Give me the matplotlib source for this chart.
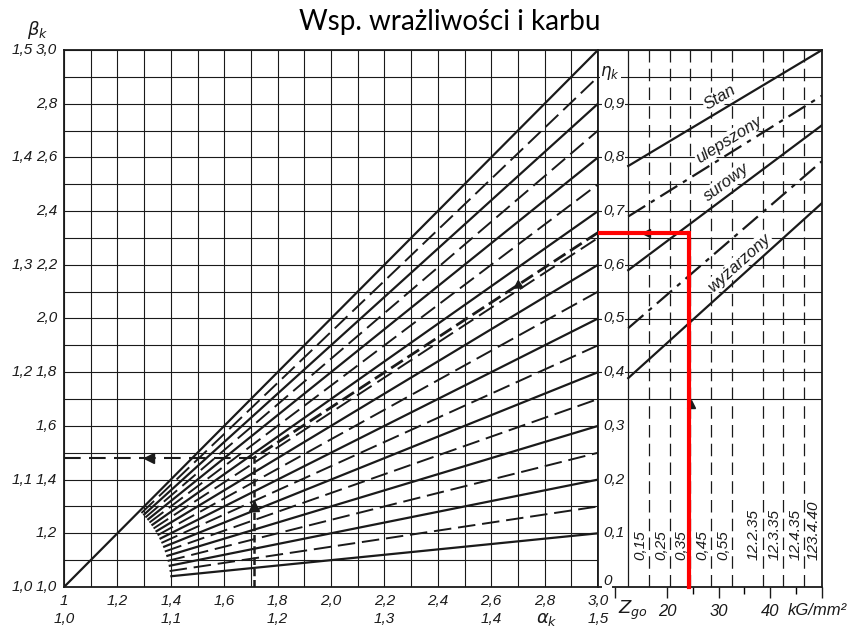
import numpy as np
import matplotlib
matplotlib.use('Agg')
import matplotlib.pyplot as plt

# --- data ---
alpha_ticks = [1.0, 1.2, 1.4, 1.6, 1.8, 2.0, 2.2, 2.4, 2.6, 2.8, 3.0]
alpha_labels = ['1', '1,2', '1,4', '1,6', '1,8', '2,0', '2,2', '2,4', '2,6', '2,8', '3,0']
alpha2_ticks = [1.0, 1.4, 1.8, 2.2, 2.6, 3.0]
alpha2_labels = ['1,0', '1,1', '1,2', '1,3', '1,4', '1,5']
beta_ticks = [1.0, 1.2, 1.4, 1.6, 1.8, 2.0, 2.2, 2.4, 2.6, 2.8, 3.0]
beta_labels = ['1,0', '1,2', '1,4', '1,6', '1,8', '2,0', '2,2', '2,4', '2,6', '2,8', '3,0']
beta2_ticks = [1.0, 1.4, 1.8, 2.2, 2.6, 3.0]
beta2_labels = ['1,0', '1,1', '1,2', '1,3', '1,4', '1,5']

# fan of lines beta = 1 + eta*(alpha-1)
eta_solid = [0.1, 0.2, 0.3, 0.4, 0.5, 0.6, 0.7, 0.8, 0.9, 1.0]
eta_dashed = [0.15, 0.25, 0.35, 0.45, 0.55, 0.65, 0.75, 0.85, 0.95]
fan_radius = 0.4

eta_ticks = [0.0, 0.1, 0.2, 0.3, 0.4, 0.5, 0.6, 0.7, 0.8, 0.9]
eta_labels = ['0', '0,1', '0,2', '0,3', '0,4', '0,5', '0,6', '0,7', '0,8', '0,9']

# steels on the Z_go scale (kG/mm2)
steel_names = ['0,15', '0,25', '0,35', '0,45', '0,55', '12.2.35', '12.3.35', '12.4.35', '123.4.40']
steel_zgo = [16.5, 20.5, 24.5, 28.5, 32.5, 38.5, 42.5, 46.5, 50.0]

# state lines in right panel: eta at Z=12.5 and Z=50
state_z = [12.5, 50.0]
state_eta_start = [0.784, 0.69, 0.59, 0.482, 0.389]
state_eta_end = [1.0, 0.915, 0.86, 0.793, 0.715]
state_names = ['Stan', 'ulepszony', 'surowy', 'wyżarzony']
state_label_line = [0, 1, 2, 4]
state_label_z = [31.0, 32.8, 32.4, 35.0]

# worked example
read_zgo = 24.3
read_eta = 0.66
read_alpha = 1.71
read_beta = 1.48

W, H = 856, 627
ink = '#1a1a1a'

fig = plt.figure(figsize=(W / 100, H / 100), dpi=100)


def px_box(x0, x1, y0, y1):
    return [x0 / W, 1 - y1 / H, (x1 - x0) / W, (y1 - y0) / H]


ax = fig.add_axes(px_box(64, 598, 50, 587))
axr = fig.add_axes(px_box(598, 822, 50, 587))
zleft = 50 - 224 / 5.167

ax.set_xlim(1, 3)
ax.set_ylim(1, 3)
axr.set_xlim(zleft, 50)
axr.set_ylim(0, 1)

tick_font = dict(family=['Liberation Sans Narrow', 'Liberation Sans', 'DejaVu Sans'],
                 style='italic', fontsize=11, color=ink)

# main grid
for v in np.arange(1.0, 3.001, 0.1):
    ax.axvline(v, color=ink, lw=0.8, zorder=1)
    ax.axhline(v, color=ink, lw=0.8, zorder=1)

# fan lines
for eta in eta_solid + eta_dashed:
    a0 = 1 + fan_radius / np.sqrt(1 + eta ** 2)
    if eta == 1.0:
        a0 = 1.0
    a = np.array([a0, 3.0])
    b = 1 + eta * (a - 1)
    if eta in eta_solid:
        ax.plot(a, b, color=ink, lw=1.6, zorder=3, solid_capstyle='butt')
    else:
        ax.plot(a, b, color=ink, lw=1.4, ls=(0, (9, 3.5)), zorder=3)

for s in ax.spines.values():
    s.set_linewidth(1.3)
    s.set_color(ink)
ax.set_xticks([])
ax.set_yticks([])

xt = ax.get_xaxis_transform()
yt = ax.get_yaxis_transform()
for v, lab in zip(alpha_ticks, alpha_labels):
    ax.text(v, -0.026, lab, transform=xt, ha='center', va='center', **tick_font)
for v, lab in zip(alpha2_ticks, alpha2_labels):
    ax.text(v, -0.060, lab, transform=xt, ha='center', va='center', **tick_font)
ax.text(2.81, -0.060, r'$\alpha_k$', transform=xt, ha='center', va='center', fontsize=13, color=ink)
for v, lab in zip(beta_ticks, beta_labels):
    ax.text(-0.013, v, lab, transform=yt, ha='right', va='center', **tick_font)
for v, lab in zip(beta2_ticks, beta2_labels):
    ax.text(-0.079, v, lab, transform=yt, ha='center', va='center', **tick_font)
ax.text(-0.05, 1.037, r'$\beta_k$', transform=ax.transAxes, ha='center', va='center', fontsize=13, color=ink)

# right panel grid
for e in np.arange(0.35, 1.001, 0.05):
    axr.axhline(e, color=ink, lw=0.8, zorder=1)
axr.axvline(12.5, color=ink, lw=0.9, zorder=1)
for z in steel_zgo[:-1]:
    axr.axvline(z, color=ink, lw=0.9, ls=(0, (10, 5)), zorder=1)
for z, name in zip(steel_zgo, steel_names):
    axr.text(z - 0.3, 0.051, name, rotation=90, ha='right', va='bottom',
             family=tick_font['family'], style='italic', fontsize=11, color=ink)

# state lines
state_styles = ['-', (0, (9, 3, 2, 3)), '-', (0, (9, 3, 2, 3)), '-']
for e0, e1, st in zip(state_eta_start, state_eta_end, state_styles):
    axr.plot(state_z, [e0, e1], color=ink, lw=1.6, ls=st, zorder=3)

# labels sitting just above their line, rotated to follow it
lab_font = dict(family=['Liberation Sans', 'DejaVu Sans'], style='italic', fontsize=12, color=ink)
fig.canvas.draw()
for name, li, z in zip(state_names, state_label_line, state_label_z):
    e0, e1 = state_eta_start[li], state_eta_end[li]
    e = e0 + (e1 - e0) * (z - state_z[0]) / (state_z[1] - state_z[0])
    p0 = axr.transData.transform((state_z[0], e0))
    p1 = axr.transData.transform((state_z[1], e1))
    ang = np.degrees(np.arctan2(p1[1] - p0[1], p1[0] - p0[0]))
    axr.annotate(name, (z, e), xytext=(0, 3.5), textcoords='offset points',
                 rotation=ang, rotation_mode='anchor', ha='center', va='bottom', zorder=4,
                 bbox=dict(fc='white', ec='none', pad=0.6), **lab_font)

# eta labels in the strip
for e, lab in zip(eta_ticks, eta_labels):
    axr.text(7.6, e + (0.012 if e == 0 else 0), lab, ha='left', va='center', zorder=5,
             bbox=dict(fc='white', ec='none', pad=0.5), **tick_font)
axr.text(9.0, 0.957, r'$\eta_k$', ha='center', va='center', fontsize=12, color=ink, zorder=5,
         bbox=dict(fc='white', ec='none', pad=0.5))

for s in axr.spines.values():
    s.set_linewidth(1.3)
    s.set_color(ink)
axr.set_yticks([])
axr.set_xticks([10, 20, 30, 40, 50])
axr.set_xticklabels(['', '20', '30', '40', ''])
axr.set_xticks([25, 35, 45], minor=True)
axr.tick_params(axis='x', which='major', direction='out', length=8, width=1, pad=4,
                labelsize=12, colors=ink)
axr.tick_params(axis='x', which='minor', direction='out', length=5, width=1)
for t in axr.get_xticklabels():
    t.set_fontstyle('italic')
    t.set_family(tick_font['family'])
axr.text(13.4, -0.043, r'$Z_{go}$', ha='center', va='center', fontsize=13, color=ink, clip_on=False)
axr.text(49.0, -0.043, 'kG/mm²', ha='center', va='center', clip_on=False, **lab_font)

# worked example: construction lines
eta_edge = 1 + read_eta * 2
ax.plot([3.0, read_alpha], [eta_edge, read_beta], color=ink, lw=2.0, ls=(0, (5, 2)), zorder=4)
ax.plot([read_alpha, read_alpha], [1.0, read_beta], color=ink, lw=1.8, ls=(0, (3, 1.5)), zorder=4)
ax.plot([1.0, read_alpha], [read_beta, read_beta], color=ink, lw=1.5, ls=(0, (8, 4)), zorder=4)
ax.plot([1.32], [read_beta], marker='<', ms=7, color=ink, zorder=5)
ax.plot([read_alpha], [1.3], marker='^', ms=7, color=ink, zorder=5)
ax.plot([2.7], [eta_edge - (eta_edge - read_beta) * 0.3 / (3.0 - read_alpha)],
        marker=(3, 0, 123), ms=7, color=ink, zorder=5)
axr.plot([16.0], [read_eta], marker='<', ms=6, color=ink, zorder=5)
axr.plot([read_zgo + 0.4], [0.34], marker='^', ms=6, color=ink, zorder=5)

axr.plot([zleft, read_zgo], [read_eta, read_eta], color='red', lw=3, zorder=6,
         solid_capstyle='butt', clip_on=False)
axr.plot([read_zgo, read_zgo], [0, read_eta], color='red', lw=3, zorder=6,
         solid_capstyle='projecting', clip_on=False)

fig.text(450 / W, 1 - 22 / H, 'Wsp. wrażliwości i karbu', ha='center', va='center',
         fontsize=20, family='Lato', color='black')

fig.savefig('out.png', dpi=100)
